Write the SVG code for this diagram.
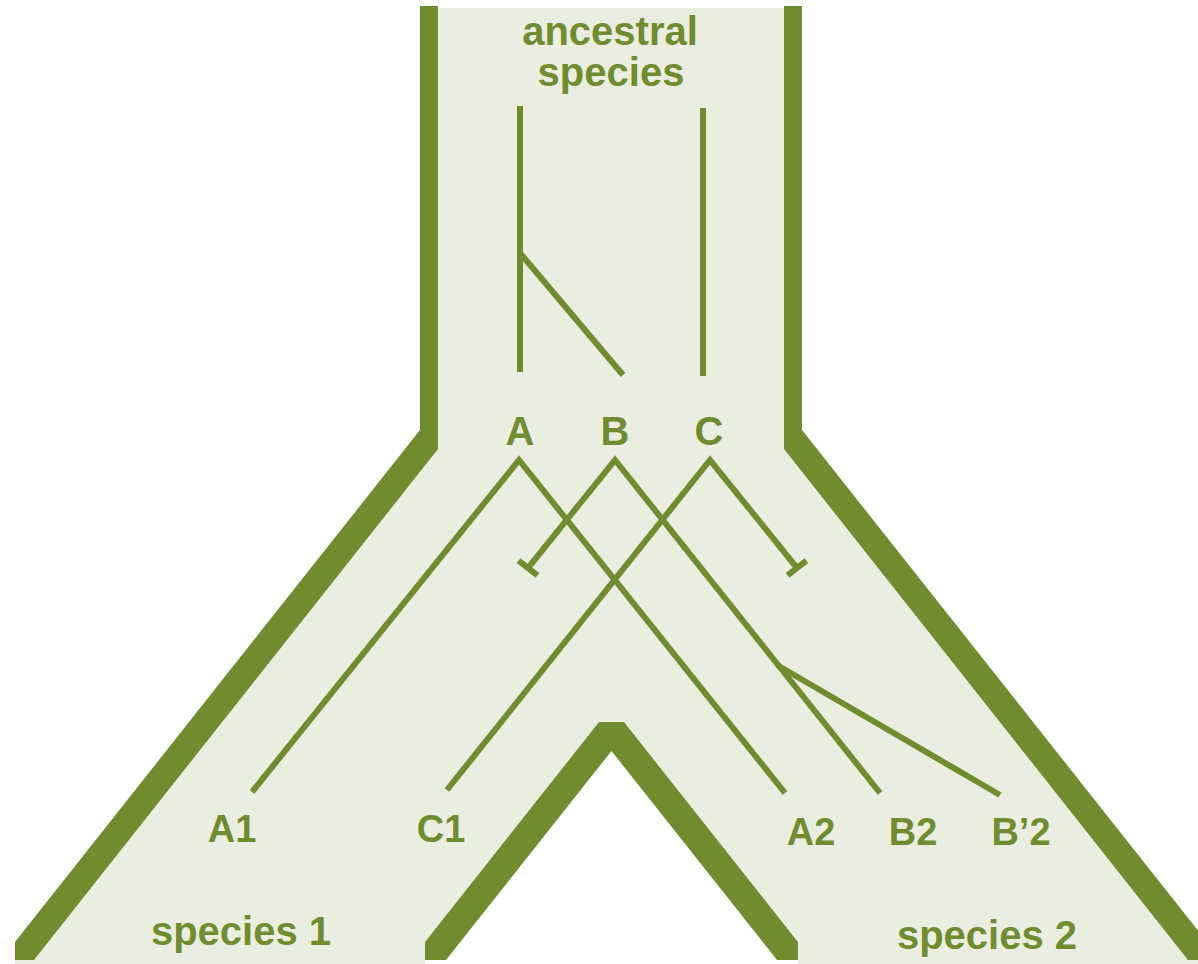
<svg xmlns="http://www.w3.org/2000/svg" width="1198" height="964" viewBox="0 0 1198 964">
  <style>
    .wall { fill: #6f8d2f; }
    .body { fill: #eaeee1; }
    .gene { fill: none; stroke: #6f8d2f; stroke-width: 6; stroke-linecap: butt; stroke-linejoin: miter; stroke-miterlimit: 10; }
    .lbl { font-family: "Liberation Sans", Arial, sans-serif; font-weight: bold; fill: #6f8d2f; text-anchor: middle; }
    .big { font-size: 40px; }
    .gl { font-size: 38px; }
  </style>
  <rect width="1198" height="964" fill="#ffffff"/>

  <g id="species-tree">
    <polygon class="body" points="420,8 802,8 802,430 1207,942 1207,964 798,964 798,942 624,722 599,722 425,942 425,964 15,964 15,942 420,430"/>
    <polygon id="wall-left" class="wall" points="420,6 438,6 438,449 34,960 15,960 15,942 420,430"/>
    <polygon id="wall-right" class="wall" points="802,6 784,6 784,449 1188,960 1207,960 1207,942 802,430"/>
    <polygon id="wall-inner" class="wall" points="425,942 599,722 624,722 798,942 798,960 777,960 611.5,751 446,960 425,960"/>
  </g>

  <g id="connectors">
    <path class="gene" d="M520,106 V372"/>
    <path class="gene" d="M520,253 L623,375"/>
    <path class="gene" d="M703,108 V376"/>
    <path class="gene" d="M252,792 L519,460 L785,793"/>
    <path class="gene" d="M528,568 L615,460 L880,793"/>
    <path class="gene" d="M518.6,560.6 L537.4,575.4"/>
    <path class="gene" d="M777,665 L1000,795"/>
    <path class="gene" d="M447,790 L710,460 L797,568"/>
    <path class="gene" d="M787.6,575.4 L806.4,560.6"/>
  </g>

  <g id="node-ancestral">
    <text class="lbl big" x="610" y="45">ancestral</text>
    <text class="lbl big" x="611" y="86">species</text>
  </g>
  <g id="node-A"><text class="lbl big" x="520" y="445">A</text></g>
  <g id="node-B"><text class="lbl big" x="615" y="445">B</text></g>
  <g id="node-C"><text class="lbl big" x="709" y="445">C</text></g>
  <g id="node-A1"><text class="lbl gl" x="232" y="842">A1</text></g>
  <g id="node-C1"><text class="lbl gl" x="441" y="842">C1</text></g>
  <g id="node-A2"><text class="lbl gl" x="811" y="845">A2</text></g>
  <g id="node-B2"><text class="lbl gl" x="913" y="845">B2</text></g>
  <g id="node-Bp2"><text class="lbl gl" x="1021" y="845">B’2</text></g>
  <g id="node-species1"><text class="lbl big" x="241" y="945">species 1</text></g>
  <g id="node-species2"><text class="lbl big" x="987" y="949">species 2</text></g>
</svg>
